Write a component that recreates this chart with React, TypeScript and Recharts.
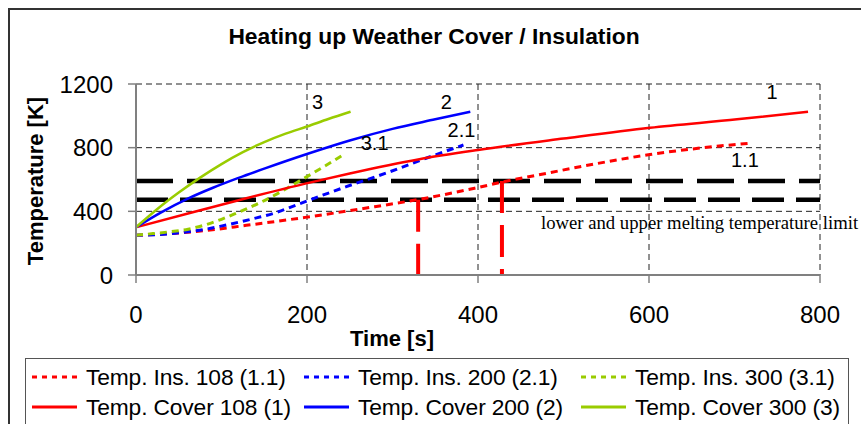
import {
  ComposedChart,
  Line,
  XAxis,
  YAxis,
  CartesianGrid,
  ReferenceLine,
  Label,
  LabelList,
} from "recharts";

const FONT = '"Liberation Sans", Arial, sans-serif';
const SERIF = '"Liberation Serif", "Times New Roman", serif';

const TITLE = "Heating up Weather Cover / Insulation";
const X_TITLE = "Time [s]";
const Y_TITLE = "Temperature [K]";
const LIMIT_TEXT = "lower and upper melting temperature limit";

const xTicks = [0, 200, 400, 600, 800];
const yTicks = [0, 400, 800, 1200];

// melting limits [K] and the times where insulation 108 reaches them [s]
const lowerLimit = 473;
const upperLimit = 590;
const limitTimes = [330, 428];

// time [s] / temperature [K]
const cover108 = [
  { t: 0, T: 300 }, { t: 63, T: 390 }, { t: 129, T: 482 }, { t: 198, T: 574 },
  { t: 250, T: 638 }, { t: 330, T: 726 }, { t: 400, T: 785 }, { t: 500, T: 857 },
  { t: 601, T: 925 }, { t: 703, T: 978 }, { t: 786, T: 1026 },
];
const cover200 = [
  { t: 0, T: 300 }, { t: 30, T: 395 }, { t: 60, T: 478 }, { t: 90, T: 548 },
  { t: 120, T: 610 }, { t: 150, T: 668 }, { t: 200, T: 760 }, { t: 250, T: 845 },
  { t: 300, T: 918 }, { t: 350, T: 978 }, { t: 391, T: 1026 },
];
const cover300 = [
  { t: 0, T: 300 }, { t: 25, T: 415 }, { t: 50, T: 518 }, { t: 75, T: 612 },
  { t: 100, T: 697 }, { t: 125, T: 772 }, { t: 150, T: 835 }, { t: 175, T: 888 },
  { t: 200, T: 933 }, { t: 225, T: 980 }, { t: 251, T: 1026 },
];
const ins108 = [
  { t: 0, T: 250 }, { t: 40, T: 260 }, { t: 83, T: 280 }, { t: 129, T: 312 },
  { t: 198, T: 362 }, { t: 266, T: 418 }, { t: 330, T: 474 }, { t: 396, T: 545 },
  { t: 430, T: 586 }, { t: 484, T: 643 }, { t: 539, T: 700 }, { t: 601, T: 757 },
  { t: 664, T: 800 }, { t: 718, T: 828 },
];
const ins200 = [
  { t: 0, T: 250 }, { t: 42, T: 260 }, { t: 61, T: 272 }, { t: 81, T: 287 },
  { t: 102, T: 310 }, { t: 122, T: 334 }, { t: 141, T: 359 }, { t: 163, T: 391 },
  { t: 176, T: 416 }, { t: 198, T: 461 }, { t: 246, T: 555 }, { t: 297, T: 649 },
  { t: 340, T: 735 }, { t: 383, T: 817 },
];
const ins300 = [
  { t: 0, T: 250 }, { t: 20, T: 260 }, { t: 40, T: 272 }, { t: 61, T: 288 },
  { t: 81, T: 315 }, { t: 100, T: 350 }, { t: 118, T: 390 }, { t: 141, T: 444 },
  { t: 165, T: 510 }, { t: 198, T: 612 }, { t: 222, T: 688 }, { t: 244, T: 760 },
];

const series = [
  { key: "ins108", name: "Temp. Ins. 108 (1.1)", tag: "1.1", data: ins108, color: "#FF0000", dashed: true },
  { key: "ins200", name: "Temp. Ins. 200 (2.1)", tag: "2.1", data: ins200, color: "#0000FF", dashed: true },
  { key: "ins300", name: "Temp. Ins. 300 (3.1)", tag: "3.1", data: ins300, color: "#99CC00", dashed: true },
  { key: "cover108", name: "Temp. Cover 108 (1)", tag: "1", data: cover108, color: "#FF0000", dashed: false },
  { key: "cover200", name: "Temp. Cover 200 (2)", tag: "2", data: cover200, color: "#0000FF", dashed: false },
  { key: "cover300", name: "Temp. Cover 300 (3)", tag: "3", data: cover300, color: "#99CC00", dashed: false },
];

// where the curve numbers sit relative to each curve's last point
const tagOffset: Record<string, [number, number]> = {
  ins108: [-5, 17],
  ins200: [-2, -15],
  ins300: [30, -11],
  cover108: [-36, -20],
  cover200: [-24, -10],
  cover300: [-33, -10],
};

// legend column starts inside the legend box
const legendCols = [6, 278, 555];

const endTag = (key: string, tag: string, n: number) => (props: any) => {
  const { x, y, index } = props;
  if (index !== n - 1) return <g key={`${key}-${index}`} />;
  const [dx, dy] = tagOffset[key];
  return (
    <text
      key={`${key}-${index}`}
      x={x + dx}
      y={y + dy}
      textAnchor="middle"
      dominantBaseline="central"
      fontSize={20}
      fontFamily={FONT}
      fill="#000"
    >
      {tag}
    </text>
  );
};

function LegendBox() {
  return (
    <div
      style={{
        position: "absolute",
        left: 25,
        top: 358,
        width: 822,
        height: 90,
        border: "1.5px solid #555",
        background: "#fff",
        fontFamily: FONT,
        fontSize: 22.8,
        letterSpacing: -0.15,
      }}
    >
      {series.map((s, i) => {
        const col = i % 3;
        const row = Math.floor(i / 3);
        return (
          <div
            key={s.key}
            style={{
              position: "absolute",
              left: legendCols[col],
              top: 5 + row * 30,
              height: 26,
              display: "flex",
              alignItems: "center",
              whiteSpace: "nowrap",
            }}
          >
            <svg width={45} height={10} style={{ marginRight: 9 }}>
              <line
                x1={0}
                y1={5}
                x2={45}
                y2={5}
                stroke={s.color}
                strokeWidth={3}
                strokeDasharray={s.dashed ? "5 5" : undefined}
              />
            </svg>
            <span>{s.name}</span>
          </div>
        );
      })}
    </div>
  );
}

export default function App() {
  return (
    <div
      style={{
        position: "absolute",
        left: 0,
        top: 0,
        width: 861,
        height: 424,
        overflow: "hidden",
        background: "#fff",
      }}
    >
      <div
        style={{
          position: "absolute",
          left: 8,
          top: 8,
          width: 900,
          height: 500,
          border: "2px solid #333",
        }}
      />
      <div
        style={{
          position: "absolute",
          left: 0,
          width: 868,
          top: 25,
          textAlign: "center",
          fontFamily: FONT,
          fontWeight: "bold",
          fontSize: 22.8,
          lineHeight: "22px",
        }}
      >
        {TITLE}
      </div>
      <div style={{ position: "absolute", left: 0, top: 0 }}>
        <ComposedChart
          width={861}
          height={424}
          margin={{ top: 84, right: 41, left: 70, bottom: 109 }}
        >
          <CartesianGrid
            stroke="#222"
            strokeDasharray="6 4"
            strokeWidth={1}
          />
          <XAxis
            type="number"
            dataKey="t"
            domain={[0, 800]}
            ticks={xTicks}
            allowDataOverflow
            height={40}
            axisLine={{ stroke: "#808080", strokeWidth: 2 }}
            tickLine={{ stroke: "#808080", strokeWidth: 1.5 }}
            tickSize={8}
            tickMargin={23}
            tick={{ fill: "#000", fontSize: 24, fontFamily: FONT }}
          >
            <Label
              content={() => (
                <text
                  x={392}
                  y={346}
                  textAnchor="middle"
                  fontSize={22}
                  fontWeight="bold"
                  fontFamily={FONT}
                  fill="#000"
                >
                  {X_TITLE}
                </text>
              )}
            />
          </XAxis>
          <YAxis
            type="number"
            dataKey="T"
            domain={[0, 1200]}
            ticks={yTicks}
            allowDataOverflow
            width={66}
            axisLine={{ stroke: "#808080", strokeWidth: 2 }}
            tickLine={{ stroke: "#808080", strokeWidth: 1.5 }}
            tickSize={8}
            tickMargin={15}
            tick={{ fill: "#000", fontSize: 24, fontFamily: FONT }}
          >
            <Label
              content={() => (
                <text
                  transform="translate(43,181) rotate(-90)"
                  textAnchor="middle"
                  fontSize={22}
                  fontWeight="bold"
                  fontFamily={FONT}
                  fill="#000"
                >
                  {Y_TITLE}
                </text>
              )}
            />
          </YAxis>

          <ReferenceLine
            y={upperLimit}
            stroke="#000"
            strokeWidth={4.5}
            strokeDasharray="37 14"
          />
          <ReferenceLine
            y={lowerLimit}
            stroke="#000"
            strokeWidth={4.5}
            strokeDasharray="32 12"
          >
            <Label
              content={(props: any) => {
                const vb = props.viewBox || {};
                const x0 = vb.x ?? 136;
                const y0 = vb.y ?? 200;
                return (
                  <text
                    x={x0 + 405}
                    y={y0 + 29}
                    fontSize={18.7}
                    fontFamily={SERIF}
                    fill="#000"
                  >
                    {LIMIT_TEXT}
                  </text>
                );
              }}
            />
          </ReferenceLine>
          <ReferenceLine
            segment={[
              { x: limitTimes[0], y: lowerLimit },
              { x: limitTimes[0], y: 0 },
            ]}
            stroke="#FF0000"
            strokeWidth={4}
            strokeDasharray="32 12"
          />
          <ReferenceLine
            segment={[
              { x: limitTimes[1], y: upperLimit },
              { x: limitTimes[1], y: 0 },
            ]}
            stroke="#FF0000"
            strokeWidth={4}
            strokeDasharray="32 12"
          />

          {series.map((s) => (
            <Line
              key={s.key}
              data={s.data}
              dataKey="T"
              type="monotone"
              stroke={s.color}
              strokeWidth={s.dashed ? 3 : 2.5}
              strokeDasharray={s.dashed ? "7 5" : undefined}
              dot={false}
              activeDot={false}
              isAnimationActive={false}
              name={s.name}
            >
              <LabelList dataKey="T" content={endTag(s.key, s.tag, s.data.length)} />
            </Line>
          ))}
        </ComposedChart>
      </div>
      <LegendBox />
    </div>
  );
}
